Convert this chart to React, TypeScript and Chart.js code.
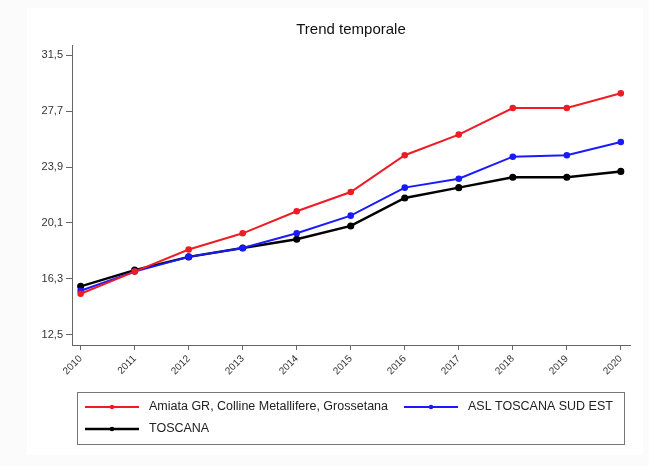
import React, { useEffect, useRef } from "react";
import { Chart, registerables } from "chart.js";

Chart.register(...registerables);

const years = [2010, 2011, 2012, 2013, 2014, 2015, 2016, 2017, 2018, 2019, 2020];
const yTickValues = [12.5, 16.3, 20.1, 23.9, 27.7, 31.5];
const titleText = "Trend temporale";
const seriesNames = ["Amiata GR, Colline Metallifere, Grossetana", "ASL TOSCANA SUD EST", "TOSCANA"];
const amiata = [15.3, 16.8, 18.3, 19.4, 20.9, 22.2, 24.7, 26.1, 27.9, 27.9, 28.9];
const aslSudEst = [15.5, 16.8, 17.8, 18.4, 19.4, 20.6, 22.5, 23.1, 24.6, 24.7, 25.6];
const toscana = [15.8, 16.9, 17.8, 18.4, 19.0, 19.9, 21.8, 22.5, 23.2, 23.2, 23.6];
const seriesColors = ["#ee1c25", "#1a1aff", "#000000"];
const seriesWidths = [2, 2, 2.5];

const FONT = "'Liberation Sans', Arial, Helvetica, sans-serif";

const backgroundPlugin = {
  id: "bgFrame",
  beforeDraw(chart: any) {
    const { ctx, width, height } = chart;
    ctx.save();
    ctx.fillStyle = "#fbfbfb";
    ctx.fillRect(0, 0, width, height);
    ctx.fillStyle = "#ffffff";
    ctx.fillRect(27, 8, width - 33, height - 19);
    ctx.restore();
  },
};

const titlePlugin = {
  id: "centeredTitle",
  afterDraw(chart: any) {
    const { ctx, chartArea } = chart;
    ctx.save();
    ctx.font = `15px ${FONT}`;
    ctx.fillStyle = "#111";
    ctx.textAlign = "center";
    ctx.textBaseline = "middle";
    ctx.fillText(titleText, (chartArea.left + chartArea.right) / 2, 30);
    ctx.restore();
  },
};

const legendPlugin = {
  id: "boxedLegend",
  afterDraw(chart: any) {
    const { ctx, chartArea } = chart;
    const left = chartArea.left + 5;
    const right = chartArea.right - 6;
    const top = chartArea.bottom + 47;
    const bottom = top + 52;
    ctx.save();
    ctx.strokeStyle = "#777";
    ctx.lineWidth = 1;
    ctx.strokeRect(Math.round(left) + 0.5, Math.round(top) + 0.5, right - left, bottom - top);
    ctx.font = `12.5px ${FONT}`;
    ctx.textBaseline = "middle";
    ctx.textAlign = "left";
    const rows = [[0, 1], [2]];
    rows.forEach((row, r) => {
      const y = top + 15 + r * 22;
      let x = left + 8;
      row.forEach((i) => {
        const ds = chart.data.datasets[i];
        ctx.strokeStyle = ds.borderColor;
        ctx.lineWidth = ds.borderWidth;
        ctx.beginPath();
        ctx.moveTo(x, y);
        ctx.lineTo(x + 54, y);
        ctx.stroke();
        ctx.fillStyle = ds.borderColor;
        ctx.beginPath();
        ctx.arc(x + 27, y, 2.3, 0, Math.PI * 2);
        ctx.fill();
        ctx.fillStyle = "#222";
        ctx.fillText(ds.label, x + 64, y);
        x = x + 64 + ctx.measureText(ds.label).width + 16;
      });
    });
    ctx.restore();
  },
};

export default function App() {
  const canvasRef = useRef<HTMLCanvasElement | null>(null);

  useEffect(() => {
    const canvas = canvasRef.current;
    if (!canvas) return;
    const seriesData = [amiata, aslSudEst, toscana];
    const chart = new Chart(canvas, {
      type: "line",
      data: {
        datasets: seriesData.map((vals, i) => ({
          label: seriesNames[i],
          data: vals.map((v, j) => ({ x: years[j], y: v })),
          borderColor: seriesColors[i],
          backgroundColor: seriesColors[i],
          borderWidth: seriesWidths[i],
          pointRadius: 2.3,
          pointStyle: "circle",
          tension: 0,
        })),
      },
      options: {
        animation: false,
        responsive: false,
        layout: { padding: { left: 0, right: 19, top: 45, bottom: 0 } },
        plugins: {
          legend: { display: false },
          title: { display: false },
          tooltip: { enabled: false },
        },
        scales: {
          x: {
            type: "linear",
            min: years[0] - 0.16,
            max: years[years.length - 1] + 0.17,
            afterBuildTicks: (scale: any) => {
              scale.ticks = years.map((v) => ({ value: v }));
            },
            afterFit: (scale: any) => {
              scale.height = 121;
            },
            grid: { display: true, drawOnChartArea: false, tickLength: 5, color: "#666" },
            border: { display: true, color: "#666" },
            ticks: {
              autoSkip: false,
              maxRotation: 45,
              minRotation: 45,
              padding: 3,
              color: "#333",
              font: { family: FONT, size: 10 },
              callback: (v: any) => String(v),
            },
          },
          y: {
            type: "linear",
            min: 11.82,
            max: 32.18,
            afterBuildTicks: (scale: any) => {
              scale.ticks = yTickValues.map((v) => ({ value: v }));
            },
            afterFit: (scale: any) => {
              scale.width = 72;
            },
            grid: { display: true, drawOnChartArea: false, tickLength: 6, color: "#666" },
            border: { display: true, color: "#666" },
            ticks: {
              padding: 3,
              color: "#333",
              font: { family: FONT, size: 11 },
              callback: (v: any) => Number(v).toFixed(1).replace(".", ","),
            },
          },
        },
      },
      plugins: [backgroundPlugin, titlePlugin, legendPlugin],
    });
    return () => chart.destroy();
  }, []);

  return (
    <div style={{ position: "fixed", left: 0, top: 0, width: 649, height: 466 }}>
      <canvas ref={canvasRef} width={649} height={466} style={{ display: "block" }} />
    </div>
  );
}
